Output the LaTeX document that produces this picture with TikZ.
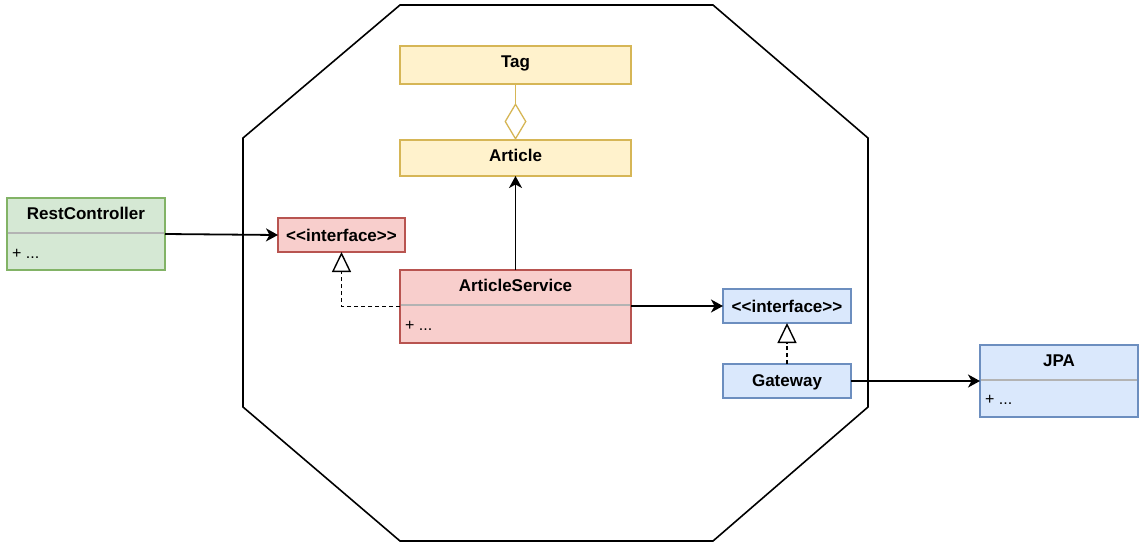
\documentclass[tikz,border=0pt]{standalone}
\usepackage{fontspec}
\setmainfont{Liberation Sans}
\usetikzlibrary{arrows.meta}
\definecolor{gfill}{HTML}{D5E8D4}\definecolor{gline}{HTML}{82B366}
\definecolor{rfill}{HTML}{F8CECC}\definecolor{rline}{HTML}{B85450}
\definecolor{yfill}{HTML}{FFF2CC}\definecolor{yline}{HTML}{D6B656}
\definecolor{bfill}{HTML}{DAE8FC}\definecolor{bline}{HTML}{6C8EBF}
\definecolor{divgray}{HTML}{B3B3B3}
\tikzset{
  box/.style={draw, line width=1.3pt, anchor=north west, inner sep=0pt, outer sep=0pt},
  hdr/.style={font=\fontsize{17}{20}\selectfont\bfseries, inner sep=0pt},
  body/.style={font=\fontsize{16}{19}\selectfont, inner sep=0pt, anchor=west},
  divline/.style={draw=divgray, line width=1.8pt},
  arr/.style={draw=black, line width=1.8pt, -{Stealth[length=12pt,width=13pt,inset=3.5pt]}},
  real/.style={draw=black, line width=1.4pt, dash pattern=on 4pt off 3pt,
    -{Triangle[open,length=20pt,width=19pt,fill=white]}},
}
\begin{document}
\begin{tikzpicture}[x=1pt,y=-1pt]
\useasboundingbox (0,0) rectangle (1139,544);
% octagon
\draw[line width=1.6pt, line join=miter] (400,5) -- (713,5) -- (868,138) -- (868,407) -- (713,541) -- (400,541) -- (243,407) -- (243,138) -- cycle;

% RestController
\node[box, fill=gfill, draw=gline, minimum width=158pt, minimum height=72pt] (rc) at (7,198) {};
\node[hdr] (rct) at (86,213) {RestController};
\draw[divline] ([xshift=0.7pt]rc.west |- 0,233) -- ([xshift=-0.7pt]rc.east |- 0,233);
\node[body] (rcb) at (12,254) {+ ...};

% red interface
\node[box, fill=rfill, draw=rline, minimum width=127pt, minimum height=34pt] (ri) at (278,218) {};
\node[hdr] (rit) at (ri.center) {<{}<interface>{}>};

% Tag
\node[box, fill=yfill, draw=yline, minimum width=231pt, minimum height=38pt] (tag) at (400,46) {};
\node[hdr] (tagt) at (515.5,63) {Tag};

% Article
\node[box, fill=yfill, draw=yline, minimum width=231pt, minimum height=36pt] (art) at (400,140) {};
\node[hdr] (artt) at (515.5,155.5) {Article};

% ArticleService
\node[box, fill=rfill, draw=rline, minimum width=231pt, minimum height=73pt] (as) at (400,270) {};
\node[hdr] (ast) at (515.5,285) {ArticleService};
\draw[divline] ([xshift=0.7pt]as.west |- 0,305) -- ([xshift=-0.7pt]as.east |- 0,305);
\node[body] (asb) at (405,326) {+ ...};

% blue interface
\node[box, fill=bfill, draw=bline, minimum width=128pt, minimum height=34pt] (bi) at (723,289) {};
\node[hdr] (bit) at (bi.center) {<{}<interface>{}>};

% Gateway
\node[box, fill=bfill, draw=bline, minimum width=128pt, minimum height=34pt] (gw) at (723,364) {};
\node[hdr] (gwt) at (787,382) {Gateway};

% JPA
\node[box, fill=bfill, draw=bline, minimum width=158pt, minimum height=72pt] (jpa) at (980,345) {};
\node[hdr] (jpat) at (1059,361) {JPA};
\draw[divline] ([xshift=0.7pt]jpa.west |- 0,380) -- ([xshift=-0.7pt]jpa.east |- 0,380);
\node[body] (jpab) at (985,400) {+ ...};

% connectors
\draw[draw=yline, line width=1.3pt, -{Diamond[open,length=37pt,width=22pt,fill=white]}] (tag.south) -- (art.north);
\draw[arr] (as.north) -- (art.south);
\draw[arr] (rc.east) -- (ri.west);
\draw[real] (as.west) -| (ri.south);
\draw[arr] (as.east |- bi.west) -- (bi.west);
\draw[real] (gw.north) -- (bi.south);
\draw[arr] (gw.east) -- (jpa.west);
\end{tikzpicture}
\end{document}
